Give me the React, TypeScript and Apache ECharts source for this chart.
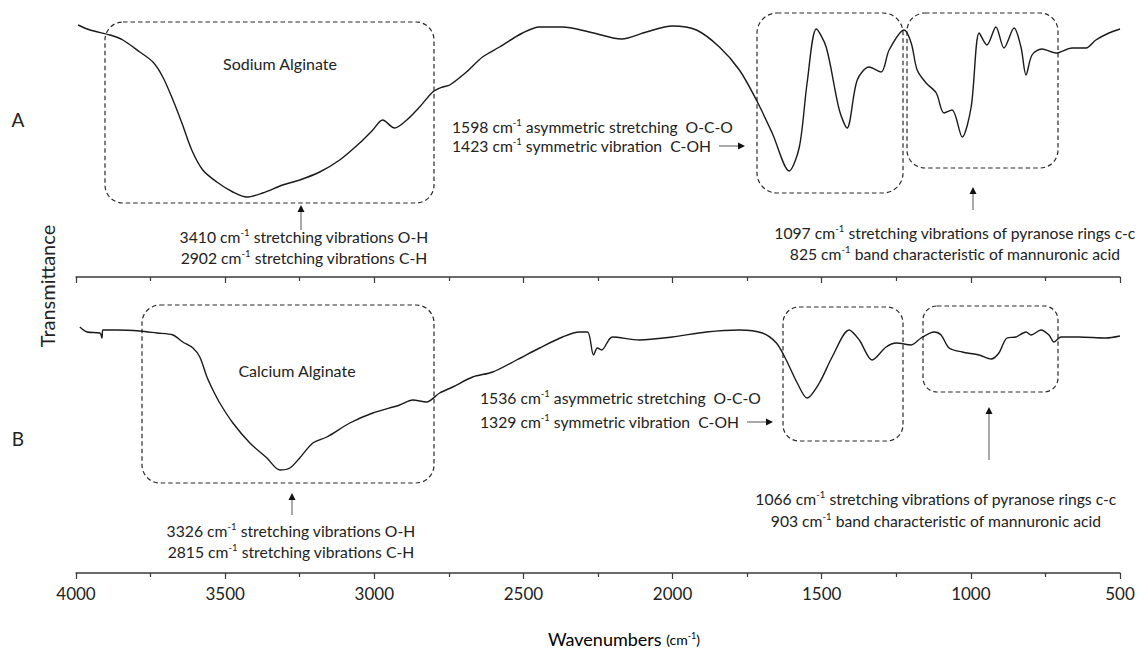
import React, { useEffect, useRef } from 'react';
import * as echarts from 'echarts';

// ---- Data (transmittance in relative units) ----
const xTickValues = [4000, 3500, 3000, 2500, 2000, 1500, 1000, 500];

const sodiumWavenumbers = [3993, 3953, 3886, 3843, 3786, 3742, 3709, 3675, 3645, 3612, 3575, 3528, 3474, 3427, 3374, 3307, 3250, 3183, 3116, 3049, 3005, 2972, 2932, 2891, 2848, 2804, 2771, 2747, 2691, 2637, 2580, 2503, 2446, 2369, 2279, 2171, 2088, 2001, 1920, 1843, 1776, 1719, 1666, 1609, 1575, 1549, 1518, 1485, 1441, 1415, 1381, 1341, 1301, 1274, 1224, 1200, 1180, 1150, 1116, 1090, 1063, 1029, 999, 972, 946, 916, 889, 855, 832, 815, 795, 762, 715, 661, 614, 581, 537, 500];
const sodiumTransmittance = [100.8, 98.8, 96.8, 94.8, 90, 86, 80, 70.8, 61.6, 50.8, 42.8, 38, 34, 32, 33.6, 36.8, 38.8, 42, 46.8, 53.6, 58.8, 62.8, 59.6, 62.8, 68, 74, 76, 76.8, 82, 88, 92, 97.6, 100, 100, 98, 95.2, 98, 100.4, 98.8, 92, 82.8, 70.8, 57.6, 42.4, 52, 77.6, 99.2, 92, 66.8, 59.6, 78.8, 84, 82, 90.8, 98.8, 93.6, 82.8, 77.6, 73.6, 65.6, 66.8, 56, 68, 97.6, 92.8, 100, 91.6, 99.6, 92, 80.8, 88.8, 91.2, 89.6, 91.6, 91.6, 94.8, 97.6, 99.2];

const calciumWavenumbers = [3987, 3963, 3920, 3913, 3910, 3863, 3786, 3729, 3675, 3642, 3608, 3585, 3561, 3541, 3518, 3474, 3417, 3360, 3317, 3283, 3250, 3206, 3159, 3082, 3005, 2915, 2871, 2825, 2781, 2737, 2670, 2603, 2523, 2446, 2369, 2312, 2285, 2265, 2252, 2238, 2202, 2111, 2001, 1887, 1776, 1699, 1652, 1619, 1582, 1549, 1508, 1465, 1408, 1374, 1331, 1284, 1250, 1200, 1167, 1123, 1100, 1073, 1029, 972, 932, 906, 879, 849, 815, 798, 765, 738, 721, 698, 638, 547, 500];
const calciumTransmittance = [98.4, 96.4, 96, 94, 97.2, 97.2, 96.8, 96, 95.2, 92.4, 90, 86.4, 78.4, 73.2, 68, 60, 52, 46, 41.2, 42, 46, 52, 54.4, 60, 64, 67.2, 69.2, 68.4, 72, 74.4, 78.4, 80.4, 85.2, 90, 94.4, 96.4, 96.4, 87.2, 90, 89.2, 94.4, 93.2, 94.4, 96.4, 97.2, 96, 92, 85.2, 76, 70, 76, 86.4, 97.2, 93.2, 85.2, 90.4, 92, 91.2, 94, 96.4, 95.2, 90, 88.4, 87.2, 85.6, 88, 94, 94.4, 96.4, 95.2, 97.2, 95.2, 92.4, 94.4, 94.4, 94, 94.8];

const FONT = 'Lato';
const INK = '#222';

function sup(a: string, s: string, b: string) {
  return `{n|${a}}{s|${s}}{n|${b}}`;
}

export default function App() {
  const ref = useRef<HTMLDivElement>(null);

  useEffect(() => {
    document.body.style.margin = '0';
    const chart = echarts.init(ref.current!, undefined, { renderer: 'svg' });

    const annSize = 15.7;
    const rich = {
      n: { fontSize: annSize, fontFamily: FONT, color: INK, lineHeight: 20 },
      s: { fontSize: 9.5, fontFamily: FONT, color: INK, lineHeight: 12, verticalAlign: 'top' },
    };

    const text = (x: number, y: number, str: string, align: string = 'center') => ({
      type: 'text',
      x,
      y,
      style: { text: str, rich, align, verticalAlign: 'middle', fill: INK },
    });

    const box = (x: number, y: number, w: number, h: number, r: number) => ({
      type: 'rect',
      shape: { x, y, width: w, height: h, r },
      style: { fill: 'none', stroke: '#2a2a2a', lineWidth: 1.2, lineDash: [4.5, 3] },
    });

    const upArrow = (x: number, tip: number, bottom: number) => [
      { type: 'line', shape: { x1: x, y1: tip + 5, x2: x, y2: bottom }, style: { stroke: '#555', lineWidth: 1 } },
      { type: 'polygon', shape: { points: [[x, tip], [x - 3.5, tip + 7], [x + 3.5, tip + 7]] }, style: { fill: '#111' } },
    ];
    const rightArrow = (x1: number, tip: number, y: number) => [
      { type: 'line', shape: { x1, y1: y, x2: tip - 5, y2: y }, style: { stroke: '#555', lineWidth: 1 } },
      { type: 'polygon', shape: { points: [[tip, y], [tip - 7, y - 3.5], [tip - 7, y + 3.5]] }, style: { fill: '#111' } },
    ];

    const xAxisBase = {
      type: 'value',
      min: 500,
      max: 4000,
      interval: 500,
      inverse: true,
      splitLine: { show: false },
      axisLine: { show: true, onZero: false, lineStyle: { color: '#3a3a3a', width: 1.5 } },
      axisTick: { show: true, length: 6, lineStyle: { color: '#3a3a3a', width: 1.2 } },
      minorTick: { show: true, splitNumber: 2, length: 4, lineStyle: { color: '#3a3a3a', width: 1.2 } },
      minorSplitLine: { show: false },
    };

    const option = {
      animation: false,
      backgroundColor: '#fff',
      grid: [
        { left: 76, right: 26, top: 2, height: 275 },
        { left: 76, right: 26, top: 298, height: 275 },
      ],
      xAxis: [
        { ...xAxisBase, gridIndex: 0, axisLabel: { show: false } },
        {
          ...xAxisBase,
          gridIndex: 1,
          axisLabel: {
            show: true,
            margin: 12,
            fontSize: 17,
            fontFamily: FONT,
            color: INK,
            formatter: (v: number) => (xTickValues.includes(v) ? String(v) : ''),
          },
        },
      ],
      yAxis: [
        { type: 'value', gridIndex: 0, min: 0, max: 110, show: false },
        { type: 'value', gridIndex: 1, min: 0, max: 110, show: false },
      ],
      series: [
        {
          name: 'Sodium Alginate',
          type: 'line',
          xAxisIndex: 0,
          yAxisIndex: 0,
          data: sodiumWavenumbers.map((w, i) => [w, sodiumTransmittance[i]]),
          showSymbol: false,
          smooth: 0.3,
          clip: false,
          lineStyle: { color: '#1a1a1a', width: 1.4 },
        },
        {
          name: 'Calcium Alginate',
          type: 'line',
          xAxisIndex: 1,
          yAxisIndex: 1,
          data: calciumWavenumbers.map((w, i) => [w, calciumTransmittance[i]]),
          showSymbol: false,
          smooth: 0.3,
          clip: false,
          lineStyle: { color: '#1a1a1a', width: 1.4 },
        },
      ],
      graphic: [
        // panel letters and axis titles
        { type: 'text', x: 18, y: 119, style: { text: 'A', fontSize: 19, fontFamily: FONT, fill: INK, align: 'center', verticalAlign: 'middle' } },
        { type: 'text', x: 18, y: 438, style: { text: 'B', fontSize: 19, fontFamily: FONT, fill: INK, align: 'center', verticalAlign: 'middle' } },
        { type: 'text', x: 47, y: 286, rotation: Math.PI / 2, style: { text: 'Transmittance', fontSize: 20, fontFamily: FONT, fill: INK, align: 'center', verticalAlign: 'middle' } },
        {
          type: 'text', x: 624, y: 639,
          style: {
            text: '{b|Wavenumbers }{m|(cm}{s|-1}{m|)}',
            align: 'center', verticalAlign: 'middle',
            rich: {
              b: { fontSize: 18, fontFamily: FONT, color: INK, lineHeight: 16 },
              m: { fontSize: 14, fontFamily: FONT, color: INK, lineHeight: 16 },
              s: { fontSize: 9, fontFamily: FONT, color: INK, lineHeight: 10, verticalAlign: 'top' },
            },
          },
        },
        // dashed boxes, panel A
        box(105, 22, 329, 181, 18),
        box(757, 13, 146, 180, 20),
        box(907, 13, 151, 155, 18),
        // dashed boxes, panel B
        box(142, 305, 292, 178, 18),
        box(783, 307, 120, 134, 16),
        box(923, 306, 135, 86, 14),
        // labels in boxes
        { type: 'text', x: 280, y: 63, style: { text: 'Sodium Alginate', fontSize: 16, fontFamily: FONT, fill: INK, align: 'center', verticalAlign: 'middle' } },
        { type: 'text', x: 297, y: 370, style: { text: 'Calcium Alginate', fontSize: 16, fontFamily: FONT, fill: INK, align: 'center', verticalAlign: 'middle' } },
        // annotations panel A
        text(304, 237, sup('3410 cm', '-1', ' stretching vibrations O-H')),
        text(304, 258, sup('2902 cm', '-1', ' stretching vibrations C-H')),
        ...upArrow(301, 205, 230),
        text(452, 127, sup('1598 cm', '-1', ' asymmetric stretching  O-C-O'), 'left'),
        text(452, 146, sup('1423 cm', '-1', ' symmetric vibration  C-OH'), 'left'),
        ...rightArrow(719, 745, 146),
        text(955, 233, sup('1097 cm', '-1', ' stretching vibrations of pyranose rings c-c')),
        text(955, 254, sup('825 cm', '-1', ' band characteristic of mannuronic acid')),
        ...upArrow(973, 187, 210),
        // annotations panel B
        text(291, 531, sup('3326 cm', '-1', ' stretching vibrations O-H')),
        text(291, 552, sup('2815 cm', '-1', ' stretching vibrations C-H')),
        ...upArrow(292, 493, 515),
        text(480, 398, sup('1536 cm', '-1', ' asymmetric stretching  O-C-O'), 'left'),
        text(480, 422, sup('1329 cm', '-1', ' symmetric vibration  C-OH'), 'left'),
        ...rightArrow(747, 773, 422),
        text(936, 499, sup('1066 cm', '-1', ' stretching vibrations of pyranose rings c-c')),
        text(936, 521, sup('903 cm', '-1', ' band characteristic of mannuronic acid')),
        ...upArrow(989, 407, 460),
      ],
    };

    chart.setOption(option as any);
    return () => chart.dispose();
  }, []);

  return <div ref={ref} style={{ width: 1146, height: 649 }} />;
}
